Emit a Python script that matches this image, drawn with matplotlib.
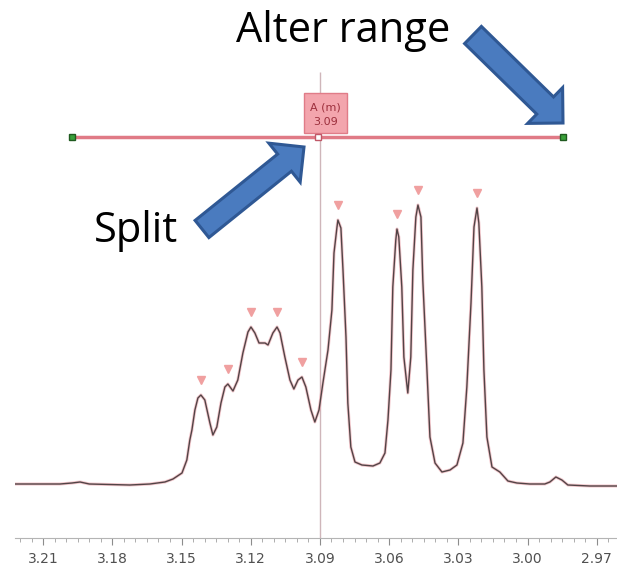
import matplotlib
matplotlib.use('Agg')
import matplotlib.pyplot as plt
from matplotlib.patches import FancyArrow, Rectangle
from matplotlib.ticker import FixedLocator, MultipleLocator
import numpy as np

## spectrum trace (ppm, intensity in arbitrary units, baseline = 0)
shift_ppm = [3.2222, 3.2114, 3.2027, 3.1975, 3.1940, 3.1900, 3.1724, 3.1637, 3.1572, 3.1537,
             3.1498, 3.1477, 3.1464, 3.1455, 3.1442, 3.1429, 3.1416, 3.1399, 3.1377, 3.1364,
             3.1347, 3.1329, 3.1312, 3.1299, 3.1277, 3.1256, 3.1234, 3.1212, 3.1199, 3.1182,
             3.1164, 3.1138, 3.1125, 3.1104, 3.1086, 3.1073, 3.1052, 3.1030, 3.1013, 3.0995,
             3.0978, 3.0961, 3.0939, 3.0922, 3.0904, 3.0887, 3.0865, 3.0848, 3.0839, 3.0826,
             3.0822, 3.0809, 3.0800, 3.0787, 3.0779, 3.0766, 3.0748, 3.0718, 3.0670, 3.0640,
             3.0618, 3.0605, 3.0592, 3.0584, 3.0571, 3.0566, 3.0558, 3.0545, 3.0536, 3.0519,
             3.0506, 3.0497, 3.0484, 3.0475, 3.0462, 3.0454, 3.0436, 3.0423, 3.0401, 3.0371,
             3.0336, 3.0306, 3.0280, 3.0263, 3.0245, 3.0232, 3.0219, 3.0211, 3.0198, 3.0189,
             3.0176, 3.0154, 3.0120, 3.0085, 3.0046, 2.9990, 2.9925, 2.9903, 2.9877, 2.9851,
             2.9825, 2.9730, 2.9612]
intensity = [1, 1, 1, 2, 3, 1, 0, 1, 3, 6,
             12, 25, 45, 55, 75, 87, 90, 85, 62, 50,
             58, 82, 98, 101, 94, 105, 132, 153, 158, 152,
             142, 142, 140, 152, 158, 152, 128, 105, 96, 105,
             108, 98, 75, 63, 75, 102, 135, 175, 232, 258,
             265, 257, 215, 148, 82, 38, 23, 20, 19, 22,
             32, 65, 115, 198, 245, 256, 248, 198, 128, 92,
             128, 215, 268, 280, 268, 205, 115, 48, 22, 13,
             15, 20, 42, 98, 182, 258, 277, 262, 198, 115,
             48, 18, 13, 4, 2, 1, 1, 3, 8, 5,
             0, -1, -1]

peak_ppm = [3.1416, 3.1299, 3.1199, 3.1086, 3.0978, 3.0822, 3.0566, 3.0475, 3.0219]

tick_ppm = [3.21, 3.18, 3.15, 3.12, 3.09, 3.06, 3.03, 3.00, 2.97]
tick_labels = ['3.21', '3.18', '3.15', '3.12', '3.09', '3.06', '3.03', '3.00', '2.97']

range_start = 3.1975
range_end = 2.9847
range_level = 348
split_ppm = 3.0909
cursor_ppm = 3.09
multiplet_name = 'A (m)'
multiplet_shift = '3.09'

fig = plt.figure(figsize=(6.17, 5.69), dpi=100)
ax = fig.add_axes([15/617, 31/569, 602/617, 538/569])

## spectrum, pink shadow underneath the dark trace
ax.plot(shift_ppm, intensity, color='#eaa2aa', lw=2.2, alpha=0.6, zorder=2)
ax.plot(shift_ppm, intensity, color='#524446', lw=1.0, zorder=3)

## peak picks
peak_heights = np.interp(peak_ppm, shift_ppm[::-1], intensity[::-1])
ax.plot(peak_ppm, peak_heights + 15, linestyle='none', marker='v', markersize=5.5,
        color='#f0a0a0', zorder=3)

## cursor line
ax.vlines(cursor_ppm, -53, 413, color='#cfb6ba', lw=1, zorder=1)

## multiplet range bar
ax.plot([range_start, range_end], [range_level, range_level], color='#e07a86', lw=2.5, zorder=4)
ax.plot([range_start, range_end], [range_level, range_level], linestyle='none', marker='s',
        markersize=4.5, markerfacecolor='#3aa03a', markeredgecolor='#1f5a1f', zorder=5)
ax.plot([split_ppm], [range_level], linestyle='none', marker='s', markersize=4,
        markerfacecolor='white', markeredgecolor='#c05868', zorder=5)

## multiplet label
ax.add_patch(Rectangle((3.0783, 352), 0.0186, 40, facecolor='#f3a5ad', edgecolor='#e07c88',
                       lw=1, zorder=4))
ax.text(3.0876, 378, multiplet_name, ha='center', va='center', fontsize=8, color='#9c2f3c', zorder=5)
ax.text(3.0876, 363, multiplet_shift, ha='center', va='center', fontsize=8, color='#9c2f3c', zorder=5)

ax.set_xlim(3.2222, 2.9612)
ax.set_ylim(-53, 485)
for s in ['top', 'left', 'right']:
    ax.spines[s].set_visible(False)
ax.spines['bottom'].set_color('#b4b4b4')
ax.set_yticks([])
ax.xaxis.set_major_locator(FixedLocator(tick_ppm))
ax.set_xticklabels(tick_labels, family=['Liberation Sans Narrow', 'DejaVu Sans'])
ax.xaxis.set_minor_locator(MultipleLocator(0.005))
ax.tick_params(axis='x', which='major', length=5, color='#8c8c8c', labelsize=10,
               labelcolor='#505050', pad=5)
ax.tick_params(axis='x', which='minor', length=3, color='#a0a0a0')

## callouts in pixel space
ov = fig.add_axes([0, 0, 1, 1], zorder=10)
ov.set_xlim(0, 617)
ov.set_ylim(569, 0)
ov.axis('off')

arrow_kw = dict(length_includes_head=True, head_width=50, head_length=25,
                facecolor='#4a7bbf', edgecolor='#2f5894', lw=2.2)
ov.add_patch(FancyArrow(473, 35, 90, 88, width=24, **arrow_kw))
ov.add_patch(FancyArrow(202, 229, 102, -82, width=22, **arrow_kw))

ov.text(236, 42, 'Alter range', fontsize=30, family='Open Sans', ha='left', va='baseline', color='black')
ov.text(94, 242, 'Split', fontsize=30, family='Open Sans', ha='left', va='baseline', color='black')

fig.savefig('out.png', dpi=100)
